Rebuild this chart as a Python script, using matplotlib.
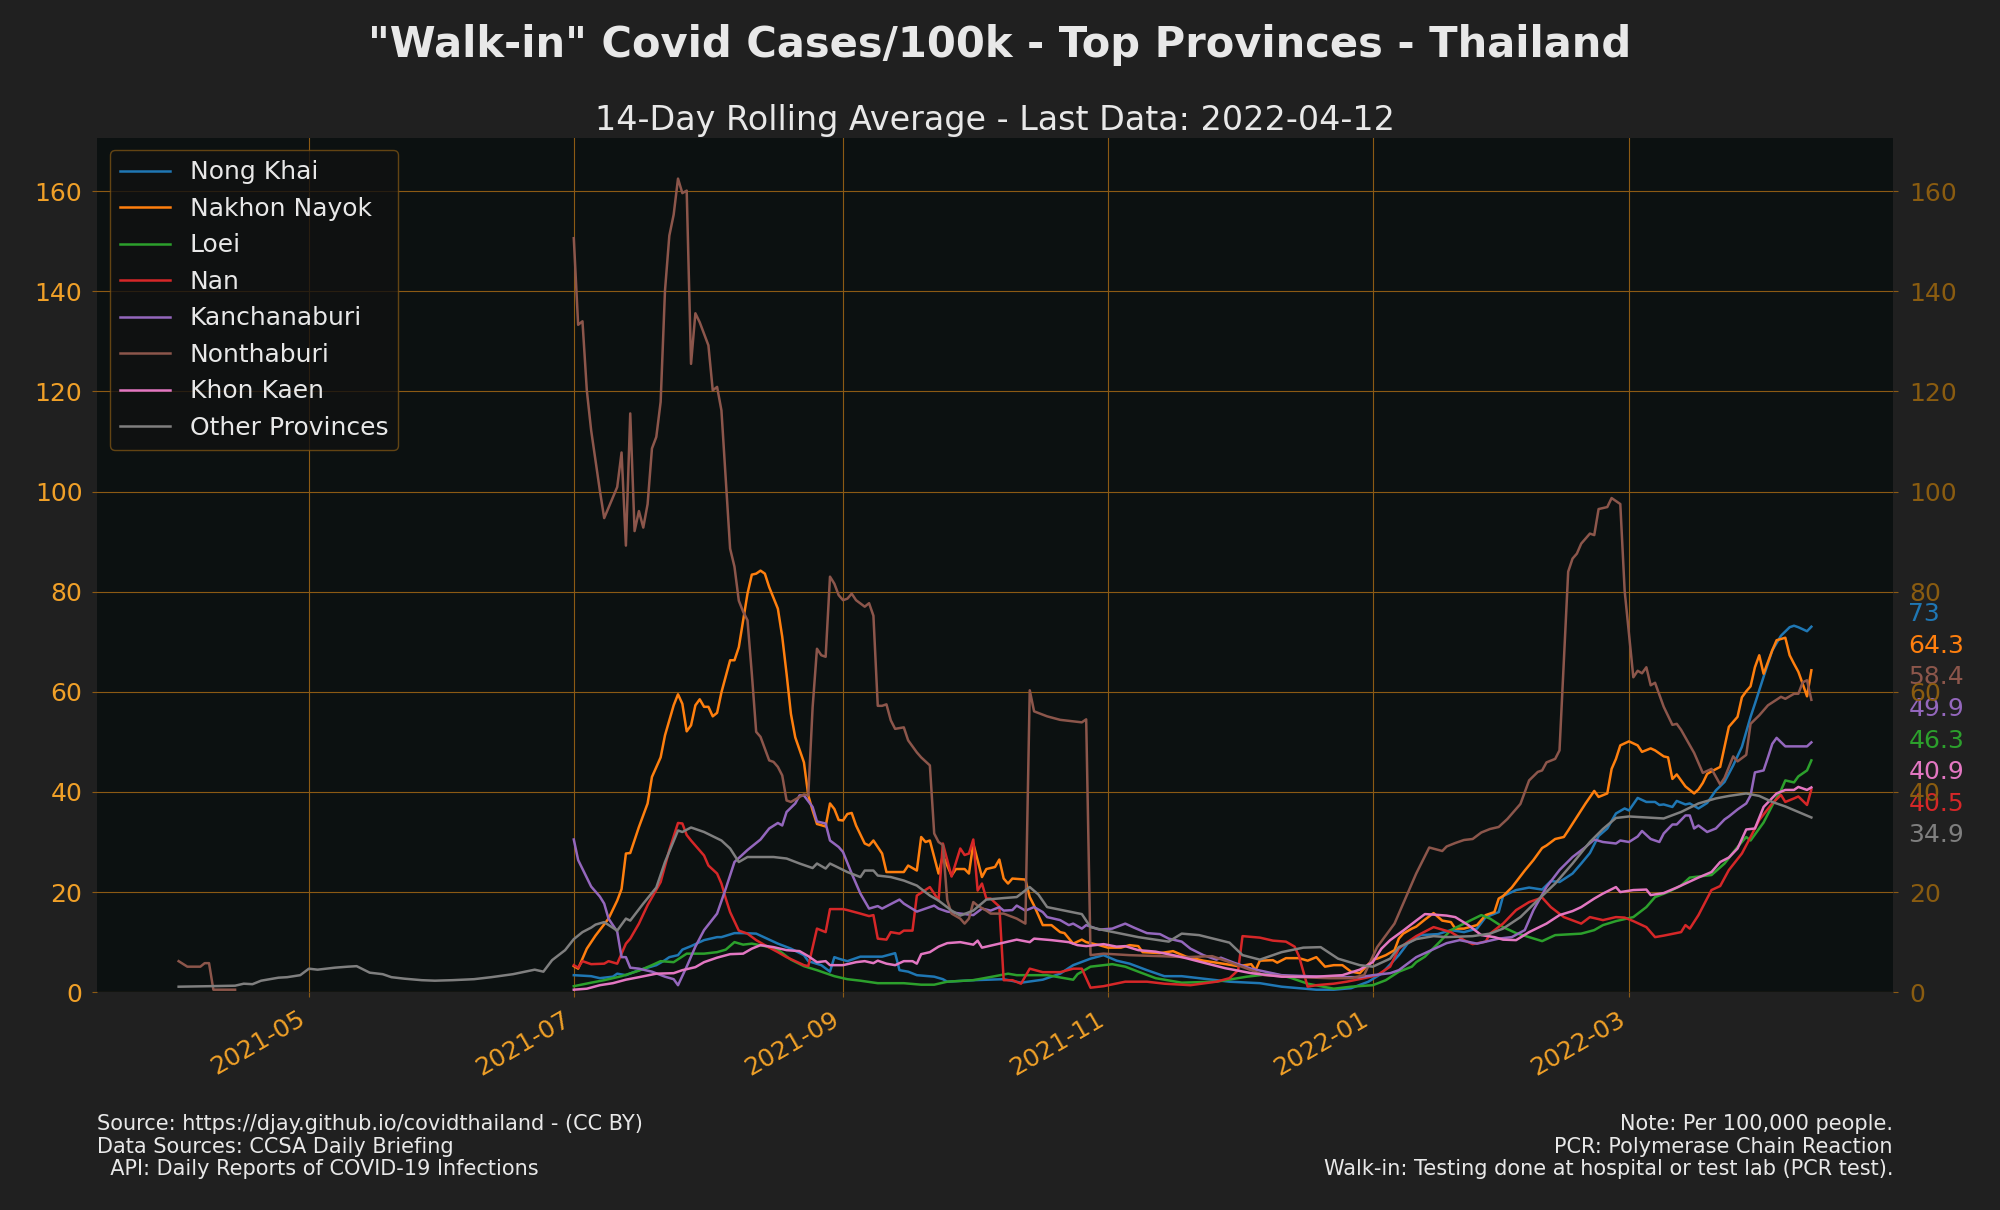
import numpy as np
import pandas as pd
import matplotlib
matplotlib.use("Agg")
from matplotlib import pyplot as plt
import matplotlib.dates as mdates
from matplotlib.transforms import blended_transform_factory

# values: (days since 2021-07-01, cases per 100k, 14 day avg)
start = pd.Timestamp("2021-07-01")

nong_khai = [(0, 3.4), (4, 3.2), (6, 2.8), (9, 3.1), (10, 3.7), (12, 3.4), (15, 4.4), (19, 5.4), (21, 6.4),
             (22, 7.0), (24, 7.4), (25, 8.5), (27, 9.2), (30, 10.4), (33, 11.0), (34, 11.0), (37, 11.8),
             (39, 11.8), (42, 11.7), (44, 10.9), (47, 9.7), (50, 8.7), (53, 7.4), (54, 6.2), (57, 5.4),
             (59, 4.1), (60, 7.0), (61, 6.7), (63, 6.2), (66, 7.1), (69, 7.1), (71, 7.1), (74, 7.8), (75, 4.4),
             (77, 4.1), (79, 3.4), (83, 3.1), (85, 2.6), (86, 2.1), (92, 2.4), (99, 2.6), (103, 1.9),
             (108, 2.5), (112, 3.7), (115, 5.4), (119, 6.7), (122, 7.4), (125, 6.3), (128, 5.7), (132, 4.4),
             (136, 3.2), (140, 3.2), (144, 2.8), (151, 2.1), (158, 1.8), (163, 1.1), (171, 0.5), (175, 0.5),
             (179, 0.8), (183, 2.1), (186, 3.7), (190, 7.4), (192, 9.7), (195, 11.4), (199, 11.6), (202, 12.4),
             (205, 12.0), (208, 12.7), (210, 15.0), (213, 16.0), (214, 19.2), (217, 20.4), (220, 20.9),
             (223, 20.5), (225, 22.2), (227, 22.0), (230, 23.7), (232, 25.7), (234, 27.8), (236, 31.2),
             (238, 32.7), (240, 35.7), (242, 36.7), (243, 36.3), (245, 38.8), (247, 38.0), (249, 38.0),
             (250, 37.4), (251, 37.5), (253, 37.0), (254, 38.2), (256, 37.5), (257, 37.7), (259, 36.7),
             (261, 37.8), (263, 40.3), (265, 42.0), (267, 45.3), (269, 49.0), (271, 55.0), (272, 57.6),
             (274, 63.0), (276, 68.3), (278, 71.2), (280, 72.9), (281, 73.2), (282, 72.9), (284, 72.1),
             (285, 73.0)]

nakhon_nayok = [(0, 5.2), (1, 4.7), (3, 8.7), (5, 11.3), (8, 14.7), (10, 18.3), (11, 20.6), (12, 27.7),
                (13, 27.8), (15, 33.0), (17, 37.7), (18, 43.0), (20, 46.9), (21, 51.3), (23, 57.3), (24, 59.5),
                (25, 57.6), (26, 52.1), (27, 53.3), (28, 57.3), (29, 58.5), (30, 57.0), (31, 57.0), (32, 55.1),
                (33, 55.8), (34, 59.9), (36, 66.3), (37, 66.3), (38, 68.9), (39, 74.3), (40, 79.6), (41, 83.4),
                (42, 83.6), (43, 84.2), (44, 83.6), (45, 80.9), (47, 76.6), (48, 71.0), (49, 63.6), (50, 55.6),
                (51, 50.9), (53, 45.9), (54, 39.3), (55, 36.3), (56, 33.6), (58, 33.1), (59, 37.7), (60, 36.6),
                (61, 34.4), (62, 34.3), (63, 35.6), (64, 35.8), (65, 33.3), (67, 29.7), (68, 29.3), (69, 30.3),
                (71, 27.7), (72, 24.0), (74, 24.0), (76, 24.0), (77, 25.3), (79, 24.3), (80, 31.0), (81, 30.0),
                (82, 30.3), (84, 23.7), (85, 27.3), (87, 23.3), (88, 24.6), (90, 24.6), (91, 23.7), (92, 29.7),
                (94, 23.0), (95, 24.6), (97, 25.0), (98, 26.5), (99, 22.7), (100, 21.7), (101, 22.7),
                (104, 22.5), (105, 19.0), (106, 17.3), (108, 13.4), (110, 13.4), (112, 12.0), (113, 11.8),
                (115, 9.7), (117, 10.5), (118, 10.0), (121, 9.4), (123, 8.9), (126, 8.9), (128, 9.4), (130, 9.2),
                (131, 8.0), (135, 7.8), (138, 8.2), (141, 7.1), (145, 6.3), (148, 5.9), (153, 5.2), (156, 5.6),
                (157, 4.4), (158, 6.3), (161, 6.4), (162, 5.9), (164, 6.8), (167, 6.8), (169, 6.3), (171, 7.0),
                (173, 5.1), (175, 5.4), (177, 5.4), (179, 4.1), (181, 3.8), (182, 4.7), (184, 6.5), (185, 6.7),
                (187, 7.4), (189, 8.4), (190, 10.7), (191, 11.7), (193, 12.7), (194, 13.1), (196, 14.5),
                (198, 15.8), (200, 14.3), (202, 14.0), (203, 12.7), (205, 12.7), (208, 13.4), (210, 15.4),
                (212, 16.0), (213, 18.7), (214, 19.2), (216, 20.9), (219, 24.3), (221, 26.4), (223, 28.8),
                (224, 29.3), (226, 30.6), (228, 31.0), (229, 32.3), (231, 35.0), (233, 37.7), (235, 40.2),
                (236, 39.0), (238, 39.7), (239, 44.6), (240, 46.6), (241, 49.3), (243, 50.1), (244, 49.7),
                (245, 49.3), (246, 48.0), (248, 48.7), (249, 48.3), (251, 47.1), (252, 46.9), (253, 42.6),
                (254, 43.5), (255, 42.3), (256, 41.1), (258, 39.7), (259, 40.5), (260, 41.8), (261, 43.6),
                (262, 44.1), (264, 45.0), (265, 49.0), (266, 53.0), (268, 55.0), (269, 58.9), (270, 60.1),
                (271, 61.1), (272, 64.9), (273, 67.3), (274, 63.6), (276, 68.3), (277, 70.3), (279, 70.8),
                (280, 67.3), (281, 65.6), (282, 64.0), (283, 61.6), (284, 59.1), (285, 64.3)]

loei = [(0, 1.2), (4, 1.9), (7, 2.4), (11, 3.2), (15, 4.3), (18, 5.4), (20, 6.2), (23, 6.0), (26, 7.7),
        (28, 7.7), (30, 7.7), (33, 8.0), (35, 8.5), (37, 10.0), (39, 9.5), (41, 9.7), (44, 9.2), (47, 8.5),
        (50, 6.5), (53, 5.2), (56, 4.4), (60, 3.2), (63, 2.6), (66, 2.3), (70, 1.8), (76, 1.8), (80, 1.5),
        (83, 1.5), (86, 2.1), (92, 2.4), (97, 3.2), (100, 3.7), (102, 3.4), (109, 3.4), (115, 2.5),
        (116, 3.6), (119, 5.1), (124, 5.6), (127, 5.1), (130, 4.1), (134, 2.8), (140, 1.9), (148, 2.1),
        (155, 3.1), (161, 3.7), (165, 2.9), (169, 1.7), (175, 0.7), (179, 1.1), (184, 1.4), (187, 2.4),
        (190, 4.1), (193, 5.1), (194, 6.0), (196, 7.1), (199, 9.7), (202, 12.4), (205, 13.7), (209, 15.4),
        (211, 14.7), (214, 13.0), (217, 11.8), (220, 11.0), (223, 10.2), (226, 11.4), (232, 11.7),
        (235, 12.4), (237, 13.4), (240, 14.2), (244, 15.0), (247, 17.0), (249, 19.0), (252, 20.0),
        (255, 21.3), (257, 22.9), (262, 23.4), (265, 25.7), (268, 29.0), (270, 31.0), (271, 30.3),
        (274, 33.9), (276, 37.3), (278, 40.3), (279, 42.3), (281, 41.9), (282, 43.1), (284, 44.3),
        (285, 46.3)]

nan_prov = [(0, 5.4), (1, 4.9), (2, 6.2), (4, 5.6), (7, 5.7), (8, 6.2), (10, 5.7), (12, 9.7), (13, 10.7),
            (15, 13.7), (17, 17.4), (20, 22.0), (22, 28.4), (24, 33.8), (25, 33.7), (26, 31.4), (27, 30.3),
            (30, 27.3), (31, 25.3), (33, 23.7), (34, 21.7), (35, 18.7), (36, 16.0), (38, 12.3), (40, 11.7),
            (42, 10.4), (44, 9.4), (47, 8.0), (49, 7.0), (51, 6.2), (53, 5.4), (54, 5.2), (56, 12.7),
            (58, 12.0), (59, 16.6), (62, 16.6), (63, 16.4), (66, 15.7), (68, 15.2), (69, 15.4), (70, 10.7),
            (72, 10.5), (73, 12.0), (75, 11.7), (76, 12.3), (78, 12.3), (79, 19.3), (82, 21.0), (83, 19.7),
            (84, 18.3), (85, 29.7), (87, 23.1), (89, 28.7), (90, 27.4), (91, 27.7), (92, 30.5), (93, 20.3),
            (94, 21.7), (95, 18.7), (96, 18.7), (98, 17.1), (99, 2.4), (101, 2.4), (103, 1.7), (105, 4.7),
            (108, 4.0), (112, 4.0), (115, 4.7), (117, 4.7), (119, 0.9), (122, 1.2), (127, 2.1), (132, 2.1),
            (136, 1.7), (142, 1.4), (148, 2.1), (151, 2.8), (153, 4.4), (154, 11.2), (158, 10.9), (161, 10.3),
            (164, 10.1), (166, 9.1), (167, 7.2), (169, 1.1), (171, 1.4), (175, 1.7), (178, 2.1), (182, 2.8),
            (185, 3.4), (188, 5.1), (190, 8.7), (192, 10.0), (194, 11.2), (198, 13.0), (200, 12.5),
            (202, 12.0), (205, 10.4), (207, 9.6), (210, 10.1), (211, 11.7), (214, 13.7), (217, 16.4),
            (220, 18.0), (223, 18.9), (225, 17.0), (228, 15.0), (232, 13.7), (234, 15.0), (237, 14.4),
            (240, 15.0), (242, 14.9), (244, 14.2), (247, 13.0), (249, 11.0), (251, 11.3), (255, 12.0),
            (256, 13.4), (257, 12.7), (259, 15.4), (262, 20.4), (264, 21.2), (266, 24.4), (269, 27.7),
            (271, 31.0), (273, 34.4), (276, 37.7), (278, 39.4), (279, 38.0), (281, 38.7), (282, 39.1),
            (284, 37.4), (285, 40.5)]

kanchanaburi = [(0, 30.5), (1, 26.4), (4, 21.1), (6, 19.1), (7, 17.7), (8, 14.7), (10, 12.1), (11, 7.0),
                (12, 7.0), (13, 4.9), (15, 4.7), (18, 4.1), (21, 3.1), (23, 2.6), (24, 1.4), (26, 5.1),
                (28, 9.1), (30, 12.4), (33, 15.7), (35, 20.7), (37, 26.0), (40, 28.4), (41, 29.1), (43, 30.5),
                (45, 32.7), (47, 33.8), (48, 33.3), (49, 36.0), (51, 37.7), (52, 39.3), (53, 39.3), (55, 37.0),
                (56, 34.1), (58, 33.7), (59, 30.3), (61, 29.0), (62, 28.0), (64, 23.7), (66, 19.7), (68, 16.7),
                (70, 17.2), (71, 16.7), (73, 17.6), (75, 18.5), (76, 17.7), (79, 16.1), (81, 16.7), (83, 17.3),
                (84, 16.7), (86, 16.1), (89, 15.7), (92, 15.4), (94, 16.7), (96, 16.3), (98, 17.0), (99, 16.3),
                (101, 16.4), (102, 17.3), (104, 16.3), (106, 17.0), (108, 16.0), (109, 15.0), (112, 14.4),
                (114, 13.4), (115, 13.7), (117, 12.7), (118, 13.4), (121, 12.5), (124, 12.7), (127, 13.7),
                (129, 12.9), (132, 11.8), (135, 11.6), (137, 10.7), (140, 10.1), (142, 8.7), (145, 7.4),
                (148, 6.5), (149, 6.9), (152, 5.9), (156, 4.7), (163, 3.4), (175, 3.0), (181, 3.0), (184, 3.4),
                (188, 3.8), (190, 4.4), (194, 7.0), (198, 8.6), (201, 9.8), (204, 10.4), (208, 9.7),
                (213, 10.7), (216, 11.0), (219, 12.4), (221, 16.4), (224, 21.0), (227, 24.4), (230, 27.0),
                (233, 29.0), (235, 30.5), (237, 30.0), (240, 29.7), (241, 30.3), (243, 30.0), (245, 31.1),
                (246, 32.2), (248, 30.6), (250, 30.0), (251, 31.7), (253, 33.5), (254, 33.5), (256, 35.3),
                (257, 35.3), (258, 32.7), (259, 33.3), (261, 32.0), (263, 32.7), (265, 34.5), (266, 35.1),
                (268, 36.5), (270, 37.7), (271, 39.3), (272, 43.9), (274, 44.3), (275, 46.9), (276, 49.6),
                (277, 50.8), (279, 49.1), (281, 49.1), (284, 49.1), (285, 49.9)]

nonthaburi = [(-91, 6.2), (-89, 5.1), (-86, 5.1), (-85, 5.8), (-84, 5.8), (-83, 0.5), (-78, 0.5), (-77, np.nan),
              (0, 150.6), (1, 133.3), (2, 134.0), (3, 120.2), (4, 112.2), (6, 100.2), (7, 94.7), (10, 100.9),
              (11, 107.8), (12, 89.2), (13, 115.6), (14, 92.1), (15, 96.1), (16, 92.8), (17, 97.5), (18, 108.6),
              (19, 110.9), (20, 117.9), (21, 140.1), (22, 151.1), (23, 155.3), (24, 162.5), (25, 159.6),
              (26, 160.1), (27, 125.5), (28, 135.6), (29, 133.8), (31, 129.2), (32, 120.2), (33, 120.9),
              (34, 116.2), (36, 88.6), (37, 85.0), (38, 78.2), (39, 76.0), (40, 74.3), (41, 63.6), (42, 52.0),
              (43, 51.0), (45, 46.3), (46, 46.0), (47, 45.0), (48, 43.3), (49, 38.3), (50, 38.0), (52, 39.0),
              (53, 39.5), (54, 39.3), (55, 56.9), (56, 68.6), (57, 67.3), (58, 67.0), (59, 83.0), (60, 81.6),
              (61, 79.3), (62, 78.3), (63, 78.6), (64, 79.6), (65, 78.3), (67, 77.0), (68, 77.7), (69, 75.2),
              (70, 57.2), (71, 57.2), (72, 57.5), (73, 54.3), (74, 52.6), (76, 52.9), (77, 50.3), (79, 47.9),
              (80, 46.9), (82, 45.3), (83, 31.7), (84, 30.0), (85, 29.4), (86, 18.4), (87, 15.7), (89, 14.7),
              (90, 13.7), (91, 14.7), (92, 18.0), (93, 17.3), (95, 16.3), (96, 15.7), (99, 15.7), (102, 14.7),
              (104, 13.7), (105, 60.3), (106, 56.1), (109, 55.1), (112, 54.4), (117, 53.9), (118, 54.5),
              (119, 7.4), (122, 7.7), (128, 7.4), (135, 7.2), (141, 7.0), (147, 7.2), (151, 6.0), (156, 4.4),
              (159, 3.4), (167, 3.0), (174, 2.8), (179, 2.8), (182, 3.4), (185, 9.0), (189, 13.7), (194, 23.7),
              (197, 28.9), (200, 28.2), (201, 29.1), (203, 29.8), (205, 30.4), (207, 30.6), (209, 31.9),
              (211, 32.6), (213, 33.0), (215, 34.6), (217, 36.6), (218, 37.6), (220, 42.3), (222, 44.0),
              (223, 44.3), (224, 45.9), (226, 46.6), (227, 48.3), (228, 66.0), (229, 84.0), (230, 86.6),
              (231, 87.6), (232, 89.6), (234, 91.6), (235, 91.3), (236, 96.5), (238, 96.9), (239, 98.7),
              (241, 97.5), (242, 80.2), (244, 62.9), (245, 64.2), (246, 63.7), (247, 64.9), (248, 61.3),
              (249, 61.8), (251, 57.0), (253, 53.4), (254, 53.6), (255, 52.4), (258, 47.8), (260, 43.8),
              (262, 44.6), (264, 41.5), (265, 42.8), (267, 47.1), (268, 46.1), (270, 47.4), (271, 53.6),
              (273, 55.3), (275, 57.3), (278, 59.0), (279, 58.6), (281, 59.6), (282, 59.6), (283, 61.9),
              (284, 62.3), (285, 58.4)]

khon_kaen = [(0, 0.5), (3, 0.7), (6, 1.4), (9, 1.8), (12, 2.5), (15, 3.0), (19, 3.7), (23, 3.8), (25, 4.4),
             (28, 5.0), (30, 6.0), (33, 6.9), (36, 7.6), (39, 7.7), (41, 8.7), (43, 9.4), (46, 9.0), (49, 8.4),
             (52, 8.2), (54, 7.2), (56, 6.0), (58, 6.2), (59, 5.4), (62, 5.4), (65, 6.0), (67, 6.2), (69, 5.8),
             (70, 6.3), (72, 5.7), (74, 5.4), (76, 6.2), (78, 6.2), (79, 5.7), (80, 7.6), (82, 8.0), (84, 9.1),
             (86, 9.8), (89, 10.0), (92, 9.5), (93, 10.3), (94, 8.9), (95, 9.1), (98, 9.7), (101, 10.3),
             (102, 10.5), (105, 10.0), (106, 10.7), (110, 10.4), (114, 10.0), (116, 9.4), (118, 9.2),
             (122, 9.6), (125, 9.1), (127, 9.2), (130, 8.4), (134, 8.1), (138, 7.4), (141, 6.8), (145, 5.9),
             (150, 4.8), (156, 3.8), (163, 3.1), (171, 3.1), (177, 3.4), (181, 4.5), (184, 6.0), (186, 8.7),
             (188, 10.4), (191, 12.3), (194, 14.3), (196, 15.6), (198, 15.5), (201, 15.3), (203, 15.0),
             (206, 13.4), (209, 11.4), (212, 11.0), (214, 10.5), (217, 10.4), (220, 12.0), (224, 13.7),
             (227, 15.4), (230, 16.2), (232, 17.0), (235, 18.7), (237, 19.7), (240, 21.0), (241, 20.0),
             (244, 20.4), (247, 20.5), (248, 19.4), (251, 19.8), (254, 20.9), (256, 21.7), (259, 22.9),
             (262, 24.0), (264, 26.0), (266, 26.9), (268, 28.7), (270, 32.5), (272, 32.7), (274, 37.0),
             (277, 39.7), (279, 40.4), (281, 40.4), (282, 41.0), (284, 40.4), (285, 40.9)]

other = [(-91, 1.1), (-84, 1.2), (-78, 1.3), (-76, 1.7), (-74, 1.6), (-72, 2.3), (-68, 2.9), (-66, 3.0),
         (-63, 3.4), (-61, 4.7), (-59, 4.5), (-55, 4.9), (-52, 5.1), (-50, 5.2), (-47, 3.9), (-44, 3.6),
         (-42, 3.0), (-39, 2.7), (-35, 2.4), (-32, 2.3), (-28, 2.4), (-23, 2.6), (-19, 3.0), (-14, 3.6),
         (-9, 4.5), (-7, 4.1), (-5, 6.4), (-2, 8.4), (0, 10.6), (2, 12.0), (4, 12.9), (5, 13.5), (7, 14.0),
         (10, 12.3), (12, 14.7), (13, 14.3), (16, 17.7), (19, 20.9), (21, 26.0), (24, 32.3), (25, 32.0),
         (27, 32.9), (30, 32.0), (34, 30.3), (36, 28.7), (38, 26.0), (40, 27.0), (46, 27.0), (49, 26.7),
         (52, 25.7), (55, 24.8), (56, 25.7), (58, 24.7), (59, 25.7), (63, 24.0), (66, 23.0), (67, 24.3),
         (69, 24.3), (70, 23.3), (73, 23.0), (76, 22.3), (79, 21.3), (82, 19.3), (84, 18.3), (87, 16.3),
         (89, 15.3), (92, 16.3), (95, 18.5), (99, 18.8), (102, 19.0), (105, 21.0), (107, 19.5), (109, 17.0),
         (117, 15.6), (119, 13.0), (122, 12.4), (130, 11.0), (137, 10.1), (140, 11.7), (144, 11.4),
         (151, 9.9), (154, 7.4), (158, 6.5), (163, 8.0), (168, 8.9), (172, 9.0), (176, 6.7), (181, 5.4),
         (184, 5.1), (188, 6.7), (190, 9.0), (194, 10.6), (198, 11.2), (201, 11.0), (207, 11.2), (211, 11.7),
         (214, 12.7), (218, 15.0), (222, 18.4), (226, 21.7), (230, 25.7), (234, 30.0), (237, 32.6),
         (240, 34.8), (243, 35.1), (247, 34.9), (251, 34.7), (255, 36.0), (259, 37.7), (263, 38.7),
         (266, 39.2), (270, 39.7), (273, 39.2), (276, 38.0), (279, 37.1), (282, 36.0), (285, 34.9)]

names = ["Nong Khai", "Nakhon Nayok", "Loei", "Nan", "Kanchanaburi", "Nonthaburi", "Khon Kaen", "Other Provinces"]
series = [nong_khai, nakhon_nayok, loei, nan_prov, kanchanaburi, nonthaburi, khon_kaen, other]
colors = ["tab:blue", "tab:orange", "tab:green", "tab:red", "tab:purple", "tab:brown", "tab:pink", "tab:gray"]

bg = "#202020"
axbg = "#0c1111"
gridc = "#8c5a14"
tickc = "#f0a028"
tick2c = "#8a5c10"
textc = "#e8e8e8"


def spread_labels(values, gap):
    # push overlapping end labels apart, keeping each group centred on its values
    order = sorted(range(len(values)), key=lambda i: -values[i])
    groups = []
    for i in order:
        groups.append([[i], values[i]])
        while len(groups) > 1:
            (a, ca), (b, cb) = groups[-2], groups[-1]
            if (ca - gap * (len(a) - 1) / 2) - (cb + gap * (len(b) - 1) / 2) >= gap:
                break
            members = a + b
            groups[-2:] = [[members, np.mean([values[j] for j in members])]]
    pos = {}
    for members, c in groups:
        for k, j in enumerate(members):
            pos[j] = c + gap * ((len(members) - 1) / 2 - k)
    return pos


fig = plt.figure(figsize=(20, 12.1), dpi=100, facecolor=bg)
ax = fig.add_axes([0.0485, 0.180, 0.898, 0.706])
ax.set_facecolor(axbg)

lasts = []
for name, data, col in zip(names, series, colors):
    days = [d for d, v in data]
    vals = [v for d, v in data]
    dates = start + pd.to_timedelta(days, unit="D")
    ax.plot(dates, vals, color=col, linewidth=1.8, label=name)
    lasts.append(vals[-1])

ymax = max(np.nanmax([v for d, v in s]) for s in series) * 1.05
ax.set_ylim(0, ymax)

ax.xaxis.set_major_locator(mdates.MonthLocator(bymonth=[1, 3, 5, 7, 9, 11]))
ax.xaxis.set_major_formatter(mdates.DateFormatter("%Y-%m"))
ax.grid(True, color=gridc, linewidth=0.8)
ax.tick_params(axis="both", labelsize=18, labelcolor=tickc, color=gridc, pad=7)
for lbl in ax.get_xticklabels():
    lbl.set_rotation(30)
    lbl.set_ha("right")
for sp in ax.spines.values():
    sp.set_visible(False)

ax2 = ax.twinx()
ax2.set_ylim(ax.get_ylim())
ax2.tick_params(axis="y", labelsize=18, labelcolor=tick2c, color=gridc, pad=8)
for sp in ax2.spines.values():
    sp.set_visible(False)

leg = ax.legend(loc="upper left", fontsize=18, facecolor="#111111", edgecolor="#7a5214",
                labelcolor=textc, framealpha=0.8)

# end-of-line value labels
pos = spread_labels(lasts, 6.3)
trans = blended_transform_factory(ax.transAxes, ax.transData)
for i, (v, col) in enumerate(zip(lasts, colors)):
    ax.annotate(f"{round(v, 1):g}", xy=(1, pos[i]), xycoords=trans, xytext=(11, 0),
                textcoords="offset points", color=col, fontsize=18, va="bottom", ha="left",
                annotation_clip=False)

fig.suptitle('"Walk-in" Covid Cases/100k - Top Provinces - Thailand', fontsize=30, fontweight="bold",
             color=textc, y=0.9625, va="center")
ax.set_title("14-Day Rolling Average - Last Data: 2022-04-12", fontsize=24, color=textc, pad=6)

fig.text(0.0485, 0.079, "Source: https://djay.github.io/covidthailand - (CC BY)\n"
         "Data Sources: CCSA Daily Briefing\n  API: Daily Reports of COVID-19 Infections",
         fontsize=15, color=textc, ha="left", va="top", linespacing=1.15)
fig.text(0.9465, 0.079, "Note: Per 100,000 people.\nPCR: Polymerase Chain Reaction\n"
         "Walk-in: Testing done at hospital or test lab (PCR test).",
         fontsize=15, color=textc, ha="right", va="top", multialignment="right", linespacing=1.15)

fig.savefig("out.png", dpi=100, facecolor=bg)
